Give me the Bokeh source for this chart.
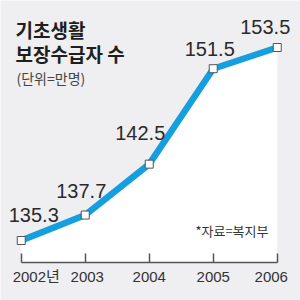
from bokeh.plotting import figure
from bokeh.models import LinearAxis, FixedTicker, Label, ColumnDataSource
from bokeh.core.properties import value
from bokeh.embed import file_html
from bokeh.resources import INLINE

# ---- data ----
years = [2002, 2003, 2004, 2005, 2006]
recipients = [135.3, 137.7, 142.5, 151.5, 153.5]          # 만명
value_labels = ["135.3", "137.7", "142.5", "151.5", "153.5"]
tick_labels = ["2002년", "2003", "2004", "2005", "2006"]
title_lines = ["기초생활", "보장수급자 수"]
unit_text = "(단위=만명)"
source_text = "*자료=복지부"

# ---- layout helpers (pixel placement, not data) ----
label_dx = [12.5, -4, -9, -3.5, -12]
label_dy = [-26, -24.5, -31, -20, -21]
tick_dx = [15, 2, 0, 0, -6]
baseline = 133.225

BG = "#efeff1"
BLUE = "#159fdf"
DARK = "#555555"
NUM_FONT = "Liberation Sans, Noto Sans CJK KR, sans-serif"

p = figure(width=300, height=300, x_range=(2001.6758, 2006.3633), y_range=(129.642, 157.933),
           min_border=0, toolbar_location=None, output_backend="svg",
           x_axis_location=None, y_axis_location=None)
p.grid.visible = False
p.outline_line_color = None
p.background_fill_color = BG
p.border_fill_color = BG

src = ColumnDataSource(dict(x=years, y=recipients, base=[baseline] * len(years),
                            lab=value_labels, dx=label_dx, dy=label_dy,
                            tick=tick_labels, tdx=tick_dx))

p.varea(x="x", y1="base", y2="y", source=src, fill_color="white")

axis = LinearAxis(fixed_location=baseline, bounds=(years[0], years[-1]),
                  ticker=FixedTicker(ticks=years),
                  major_label_overrides={y: "" for y in years},
                  axis_line_color=DARK, axis_line_width=1.5,
                  major_tick_line_color=DARK, major_tick_line_width=1.5,
                  major_tick_in=9, major_tick_out=0,
                  minor_tick_in=0, minor_tick_out=0)
p.add_layout(axis, "below")

p.line("x", "y", source=src, line_color=BLUE, line_width=6.5, line_join="round")
p.scatter("x", "y", source=src, marker="square", size=8, fill_color="white",
          line_color=DARK, line_width=1)

p.text("x", "y", text="lab", source=src, x_offset="dx", y_offset="dy",
       text_align="center", text_baseline="middle", text_font=value(NUM_FONT),
       text_font_size="20px", text_color="#2a2a2a")

p.text("x", "base", text="tick", source=src, x_offset="tdx", y_offset=14,
       text_align="center", text_baseline="middle", text_font=value(NUM_FONT),
       text_font_size="15px", text_color="#333333")

TITLE_FONT = "Noto Sans CJK KR"
p.add_layout(Label(x=15, y=300 - 29, x_units="screen", y_units="screen", text=title_lines[0],
                   text_font=TITLE_FONT, text_font_style="bold", text_font_size="19px",
                   text_baseline="middle", text_color="#1e1e1e"))
p.add_layout(Label(x=15, y=300 - 53, x_units="screen", y_units="screen", text=title_lines[1],
                   text_font=TITLE_FONT, text_font_style="bold", text_font_size="19px",
                   text_baseline="middle", text_color="#1e1e1e"))
p.add_layout(Label(x=16, y=300 - 77, x_units="screen", y_units="screen", text=unit_text,
                   text_font=TITLE_FONT, text_font_size="14px",
                   text_baseline="middle", text_color="#444444"))
p.add_layout(Label(x=268, y=300 - 229.5, x_units="screen", y_units="screen", text=source_text,
                   text_font=TITLE_FONT, text_font_size="13px", text_align="right",
                   text_baseline="middle", text_color="#333333"))

open("out.html", "w").write(file_html(p, INLINE))
